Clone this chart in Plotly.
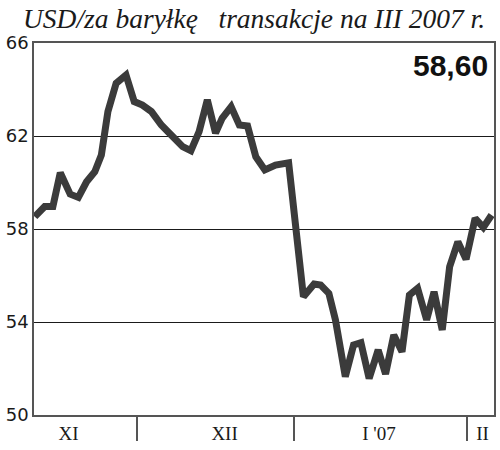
import plotly.graph_objects as go

# session index (trading days from start of chart) and price in USD/barrel
sessions = [0.1, 1.3, 2.3, 3.2, 4.4, 5.4, 6.4, 7.4, 8.2, 9.0, 10.0, 11.2, 12.2, 13.2, 14.3,
            15.5, 16.7, 18.1, 19.1, 20.1, 21.1, 22.1, 22.9, 24.0, 25.0, 26.0, 27.0, 28.1,
            29.4, 31.0, 32.8, 34.1, 34.9, 35.9, 36.7, 37.9, 38.9, 39.8, 40.8, 41.9, 42.8,
            43.8, 44.8, 45.7, 46.7, 47.8, 48.7, 49.7, 50.6, 51.6, 52.6, 53.7, 54.7, 55.7]
prices = [58.53, 58.97, 58.97, 60.42, 59.50, 59.36, 60.03, 60.46, 61.18, 63.05, 64.27,
          64.62, 63.48, 63.33, 63.05, 62.47, 62.04, 61.54, 61.37, 62.19, 63.55, 62.12,
          62.76, 63.26, 62.47, 62.43, 61.11, 60.54, 60.75, 60.85, 55.09, 55.63, 55.59,
          55.23, 54.09, 51.65, 53.01, 53.11, 51.57, 52.80, 51.76, 53.44, 52.72, 55.16,
          55.45, 54.09, 55.30, 53.66, 56.38, 57.45, 56.70, 58.46, 58.07, 58.60]

month_labels = ["XI", "XII", "I '07", "II"]
month_label_pos = [4.2, 23.2, 42.0, 54.6]
month_boundaries = [12.5, 31.6, 52.7]
y_ticks = [50, 54, 58, 62, 66]
last_value_text = "58,60"
title_text = "USD/za baryłkę&nbsp;&nbsp; transakcje na III 2007 r."

fig = go.Figure()
fig.add_trace(go.Scatter(
    x=sessions, y=prices, mode="lines",
    line=dict(color="#3b3b3b", width=7),
    hoverinfo="skip", showlegend=False,
))

fig.update_layout(
    width=500, height=450,
    margin=dict(l=34, r=4, t=43, b=35),
    paper_bgcolor="white", plot_bgcolor="white",
    showlegend=False,
    xaxis=dict(
        range=[0, 56], showgrid=False, zeroline=False,
        showline=True, linecolor="#555555", linewidth=1.5, mirror=True,
        tickmode="array", tickvals=month_label_pos, ticktext=month_labels,
        ticks="", ticklen=0,
        tickfont=dict(family="Liberation Serif", size=19, color="#1a1a1a"),
        minor=dict(tickmode="array", tickvals=month_boundaries, ticks="outside",
                   ticklen=24, tickwidth=1.5, tickcolor="#555555", showgrid=False),
    ),
    yaxis=dict(
        range=[50, 66], zeroline=False,
        showline=True, linecolor="#555555", linewidth=1.5, mirror=True,
        tickmode="array", tickvals=y_ticks,
        showgrid=True, gridcolor="#1a1a1a", gridwidth=1.2,
        ticks="", tickfont=dict(family="DejaVu Sans", size=18, color="#1a1a1a"),
    ),
    annotations=[
        dict(text=title_text, xref="paper", yref="paper", x=1.0, y=1.0,
             xanchor="right", yanchor="bottom", yshift=7, xshift=-7, showarrow=False,
             font=dict(family="Liberation Serif", size=27.5, color="#1a1a1a",
                       style="italic")),
        dict(text="<b>" + last_value_text + "</b>", xref="paper", yref="paper",
             x=1.0, y=1.0, xanchor="right", yanchor="top", xshift=-4, yshift=-4,
             showarrow=False,
             font=dict(family="Liberation Sans", size=30, color="#111111")),
    ],
)

fig.write_html("out.html", config={"displayModeBar": False},
               post_script="document.body.style.margin='0';")
